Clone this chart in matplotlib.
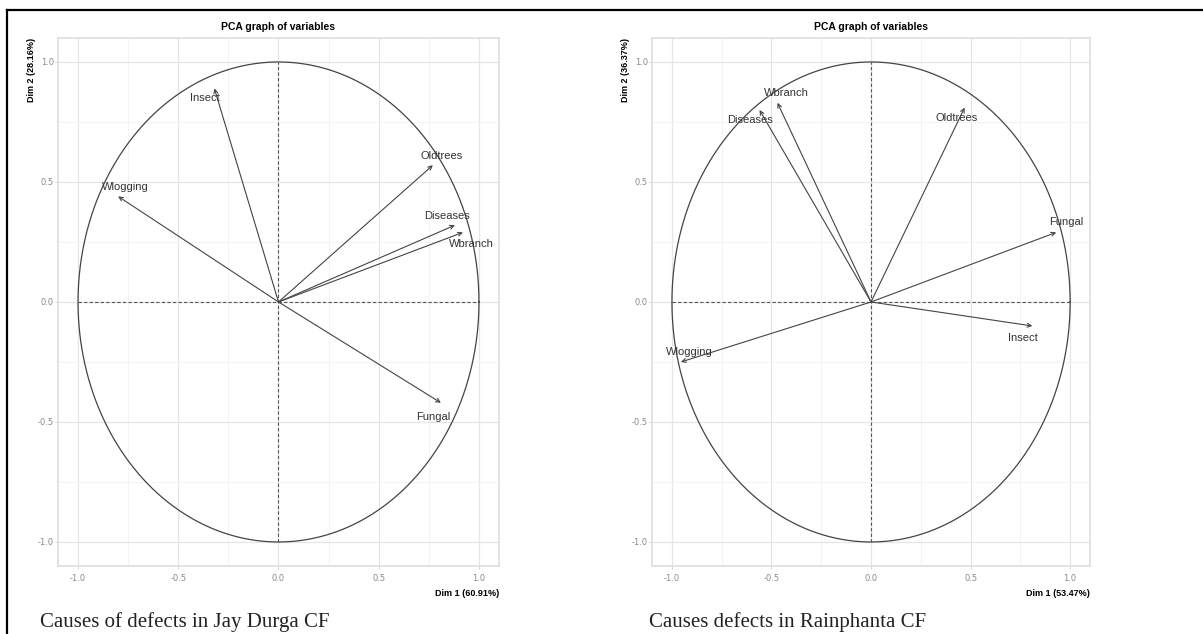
import numpy as np
import matplotlib.pyplot as plt
from matplotlib.lines import Line2D

vars_jd = ["Insect", "Wlogging", "Oldtrees", "Diseases", "Wbranch", "Fungal"]
dim1_jd = [-0.32, -0.80, 0.77, 0.88, 0.92, 0.81]
dim2_jd = [0.89, 0.44, 0.57, 0.32, 0.29, -0.42]

vars_rp = ["Wbranch", "Diseases", "Oldtrees", "Fungal", "Insect", "Wlogging"]
dim1_rp = [-0.47, -0.56, 0.47, 0.93, 0.81, -0.955]
dim2_rp = [0.83, 0.80, 0.81, 0.29, -0.10, -0.25]

xlab_jd, ylab_jd = "Dim 1 (60.91%)", "Dim 2 (28.16%)"
xlab_rp, ylab_rp = "Dim 1 (53.47%)", "Dim 2 (36.37%)"
cap_jd = "Causes of defects in Jay Durga CF"
cap_rp = "Causes defects in Rainphanta CF"

# décalage des étiquettes (pixels) par rapport à la pointe de la flèche
off_jd = [(-9, -10), (7, 9), (9, 9), (-8, 9), (8, -12), (-8, -14)]
off_rp = [(9, 10), (-10, -10), (-8, -10), (10, 10), (-9, -12), (8, 10)]

ticks = [-1.0, -0.5, 0.0, 0.5, 1.0]


def pca_plot(ax, noms, d1, d2, offs, xlab, ylab):
    ax.set_xlim(-1.1, 1.1)
    ax.set_ylim(-1.1, 1.1)
    ax.set_xticks(ticks)
    ax.set_yticks(ticks)
    ax.set_xticks([-0.75, -0.25, 0.25, 0.75], minor=True)
    ax.set_yticks([-0.75, -0.25, 0.25, 0.75], minor=True)
    ax.grid(which="major", color="#e6e6e6", lw=0.9)
    ax.grid(which="minor", color="#f3f3f3", lw=0.7)
    ax.set_axisbelow(True)
    for s in ax.spines.values():
        s.set_color("#dedede")
        s.set_linewidth(1.2)
    ax.tick_params(which="major", colors="#cccccc", labelcolor="#888888",
                   labelsize=6, length=2, width=0.6)
    ax.tick_params(axis="y", pad=1)
    ax.tick_params(axis="x", pad=4)
    ax.tick_params(which="minor", length=0)
    ax.set_xticklabels(["%.1f" % t for t in ticks])
    ax.set_yticklabels(["%.1f" % t for t in ticks])

    th = np.linspace(0, 2 * np.pi, 400)
    ax.plot(np.cos(th), np.sin(th), color="#444444", lw=0.9)
    ax.plot([-1, 1], [0, 0], color="#555555", lw=0.8, ls=(0, (3, 2)))
    ax.plot([0, 0], [-1, 1], color="#555555", lw=0.8, ls=(0, (3, 2)))

    for nom, x, y, (dx, dy) in zip(noms, d1, d2, offs):
        ax.annotate("", xy=(x, y), xytext=(0, 0),
                    arrowprops=dict(arrowstyle="->", color="#444444", lw=0.8,
                                    shrinkA=0, shrinkB=0, mutation_scale=7))
        ax.annotate(nom, xy=(x, y), xytext=(dx, dy), textcoords="offset pixels",
                    ha="center", va="center", fontsize=8, color="#333333",
                    family="Liberation Sans")

    ax.set_title("PCA graph of variables", fontsize=7.5, fontweight="bold",
                 family="Liberation Sans", pad=6)
    ax.set_ylabel(ylab, fontsize=6.5, fontweight="bold", family="Liberation Sans",
                  loc="top", labelpad=1)
    ax.set_xlabel(xlab, fontsize=6.5, fontweight="bold", family="Liberation Sans",
                  loc="right", labelpad=4)


fig = plt.figure(figsize=(12.03, 6.34), dpi=100)
ax1 = fig.add_axes([0.0482, 0.1073, 0.3666, 0.8328])
ax2 = fig.add_axes([0.5420, 0.1073, 0.3641, 0.8328])

pca_plot(ax1, vars_jd, dim1_jd, dim2_jd, off_jd, xlab_jd, ylab_jd)
pca_plot(ax2, vars_rp, dim1_rp, dim2_rp, off_rp, xlab_rp, ylab_rp)

fig.text(40 / 1203, 1 - 622 / 634, cap_jd, fontsize=15, family="Liberation Serif",
         va="center", color="#222222")
fig.text(649 / 1203, 1 - 622 / 634, cap_rp, fontsize=15, family="Liberation Serif",
         va="center", color="#222222")

# cadre noir (haut et gauche)
fig.add_artist(Line2D([7 / 1203, 1], [1 - 10 / 634, 1 - 10 / 634],
                      transform=fig.transFigure, color="black", lw=1.6))
fig.add_artist(Line2D([7 / 1203, 7 / 1203], [0, 1 - 10 / 634],
                      transform=fig.transFigure, color="black", lw=1.6))

fig.savefig("out.png", dpi=100)
